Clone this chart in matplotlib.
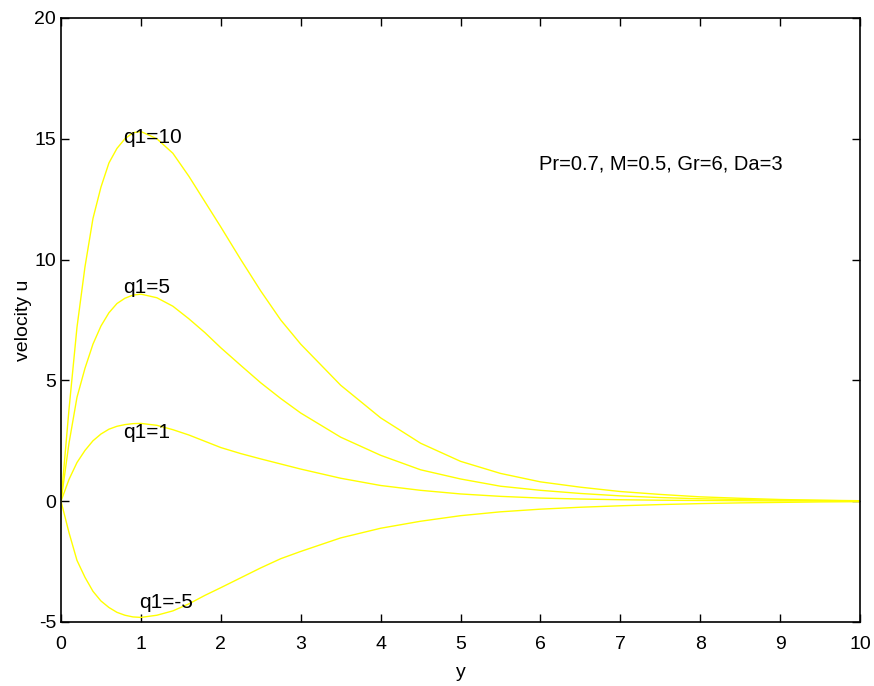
import numpy as np
import matplotlib
matplotlib.use("Agg")
import matplotlib.pyplot as plt

plt.rcParams['font.family'] = ['Liberation Sans', 'DejaVu Sans']
plt.rcParams['axes.unicode_minus'] = False

# Sample points along y
y = [0, 0.1, 0.2, 0.3, 0.4, 0.5, 0.6, 0.7, 0.8, 0.9, 1.0, 1.2, 1.4, 1.6, 1.8,
     2.0, 2.25, 2.5, 2.75, 3.0, 3.5, 4.0, 4.5, 5.0, 5.5, 6.0, 6.5, 7.0, 7.5,
     8.0, 8.5, 9.0, 9.5, 10.0]

# Velocity profiles for each heat source value q1
u_q10 = [0, 3.8, 7.2, 9.7, 11.7, 13.0, 14.0, 14.6, 15.0, 15.25, 15.3, 15.0,
         14.4, 13.45, 12.4, 11.35, 10.0, 8.7, 7.5, 6.5, 4.8, 3.45, 2.4, 1.65,
         1.15, 0.8, 0.58, 0.4, 0.28, 0.18, 0.12, 0.07, 0.04, 0.02]
u_q5 = [0, 2.4, 4.3, 5.5, 6.5, 7.25, 7.8, 8.18, 8.4, 8.53, 8.57, 8.42, 8.07,
        7.55, 6.98, 6.35, 5.62, 4.9, 4.25, 3.65, 2.65, 1.9, 1.3, 0.92, 0.62,
        0.45, 0.32, 0.22, 0.15, 0.1, 0.07, 0.04, 0.03, 0.01]
u_q1 = [0, 0.9, 1.6, 2.1, 2.5, 2.78, 2.98, 3.1, 3.17, 3.21, 3.22, 3.14, 2.96,
        2.74, 2.48, 2.22, 1.97, 1.75, 1.54, 1.33, 0.95, 0.65, 0.45, 0.3, 0.2,
        0.13, 0.09, 0.06, 0.04, 0.03, 0.02, 0.01, 0.01, 0.0]
u_qm5 = [0, -1.3, -2.45, -3.15, -3.73, -4.13, -4.4, -4.6, -4.72, -4.79, -4.81,
         -4.72, -4.54, -4.25, -3.9, -3.58, -3.17, -2.76, -2.38, -2.08, -1.52,
         -1.12, -0.83, -0.6, -0.44, -0.33, -0.25, -0.19, -0.14, -0.1, -0.07,
         -0.05, -0.03, -0.02]

labels = ["q1=10", "q1=5", "q1=1", "q1=-5"]
label_pos = [(0.78, 15.05), (0.78, 8.85), (0.78, 2.85), (0.98, -4.2)]

fig = plt.figure(figsize=(8.74, 6.86), dpi=100)
ax = fig.add_axes([0.0698, 0.0933, 0.9142, 0.8805])

for u in (u_q10, u_q5, u_q1, u_qm5):
    ax.plot(y, u, color='yellow', linewidth=1.0)

for lab, (px, py) in zip(labels, label_pos):
    ax.text(px, py, lab, fontsize=15, va='center', ha='left')

ax.text(5.98, 13.95, "Pr=0.7, M=0.5, Gr=6, Da=3", fontsize=14.5,
        va='center', ha='left')

ax.set_xlim(0, 10)
ax.set_ylim(-5, 20)
ax.set_xticks(np.arange(0, 11, 1))
ax.set_yticks(np.arange(-5, 21, 5))
ax.tick_params(direction='in', top=True, right=True, labelsize=14, length=6, width=1)
ax.tick_params(axis='x', pad=10)
for s in ax.spines.values():
    s.set_linewidth(1.2)
ax.set_xlabel("y", fontsize=14, labelpad=8)
ax.set_ylabel("velocity u", fontsize=14, labelpad=2)

fig.savefig("out.png", dpi=100)
